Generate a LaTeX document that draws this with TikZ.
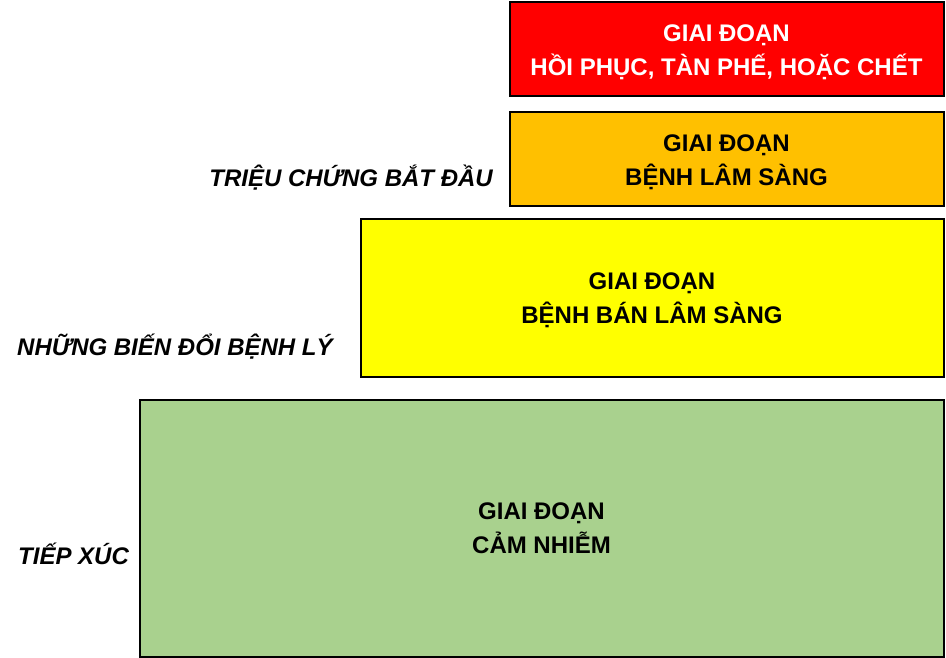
\documentclass[tikz,border=0pt]{standalone}
\usepackage{fontspec}
\setmainfont{Liberation Sans}
\definecolor{cred}{HTML}{FF0000}
\definecolor{corange}{HTML}{FFC000}
\definecolor{cyellow}{HTML}{FFFF00}
\definecolor{cgreen}{HTML}{A9D18E}
\begin{document}
\begin{tikzpicture}[x=1pt,y=-1pt,
  stagebox/.style={draw=black, line width=2pt, rectangle, inner sep=0pt},
  boxtext/.style={inner sep=0pt, anchor=base, font=\fontsize{24}{28}\selectfont\bfseries},
  sidelabel/.style={inner sep=0pt, font=\fontsize{24}{28}\selectfont\bfseries\itshape}]
\useasboundingbox (0,0) rectangle (946,658);
\node[stagebox, fill=cred, minimum width=434pt, minimum height=94pt] (red) at (726.5,49.5) {};
\node[boxtext, text=white] (red1) at ([yshift=8.4pt]red.center) {GIAI ĐOẠN};
\node[boxtext, text=white] (red2) at ([yshift=-25.6pt]red.center) {HỒI PHỤC, TÀN PHẾ, HOẶC CHẾT};
\node[stagebox, fill=corange, minimum width=434pt, minimum height=94pt] (orange) at (726.5,159.5) {};
\node[boxtext] (orange1) at ([yshift=8.4pt]orange.center) {GIAI ĐOẠN};
\node[boxtext] (orange2) at ([yshift=-26.1pt]orange.center) {BỆNH LÂM SÀNG};
\node[stagebox, fill=cyellow, minimum width=583pt, minimum height=157pt] (yellow) at (652,298) {};
\node[boxtext] (yellow1) at ([yshift=8.4pt]yellow.center) {GIAI ĐOẠN};
\node[boxtext] (yellow2) at ([yshift=-25.6pt]yellow.center) {BỆNH BÁN LÂM SÀNG};
\node[stagebox, fill=cgreen, minimum width=804pt, minimum height=257pt] (green) at (541.5,528) {};
\node[boxtext] (green1) at ([yshift=8.4pt]green.center) {GIAI ĐOẠN};
\node[boxtext] (green2) at ([yshift=-25.6pt]green.center) {CẢM NHIỄM};
\node[sidelabel, anchor=base east] (l1) at (493,186.5) {TRIỆU CHỨNG BẮT ĐẦU};
\node[sidelabel, anchor=base west] (l2) at (17,355.5) {NHỮNG BIẾN ĐỔI BỆNH LÝ};
\node[sidelabel, anchor=base west] (l3) at (18,564.5) {TIẾP XÚC};
\end{tikzpicture}
\end{document}
